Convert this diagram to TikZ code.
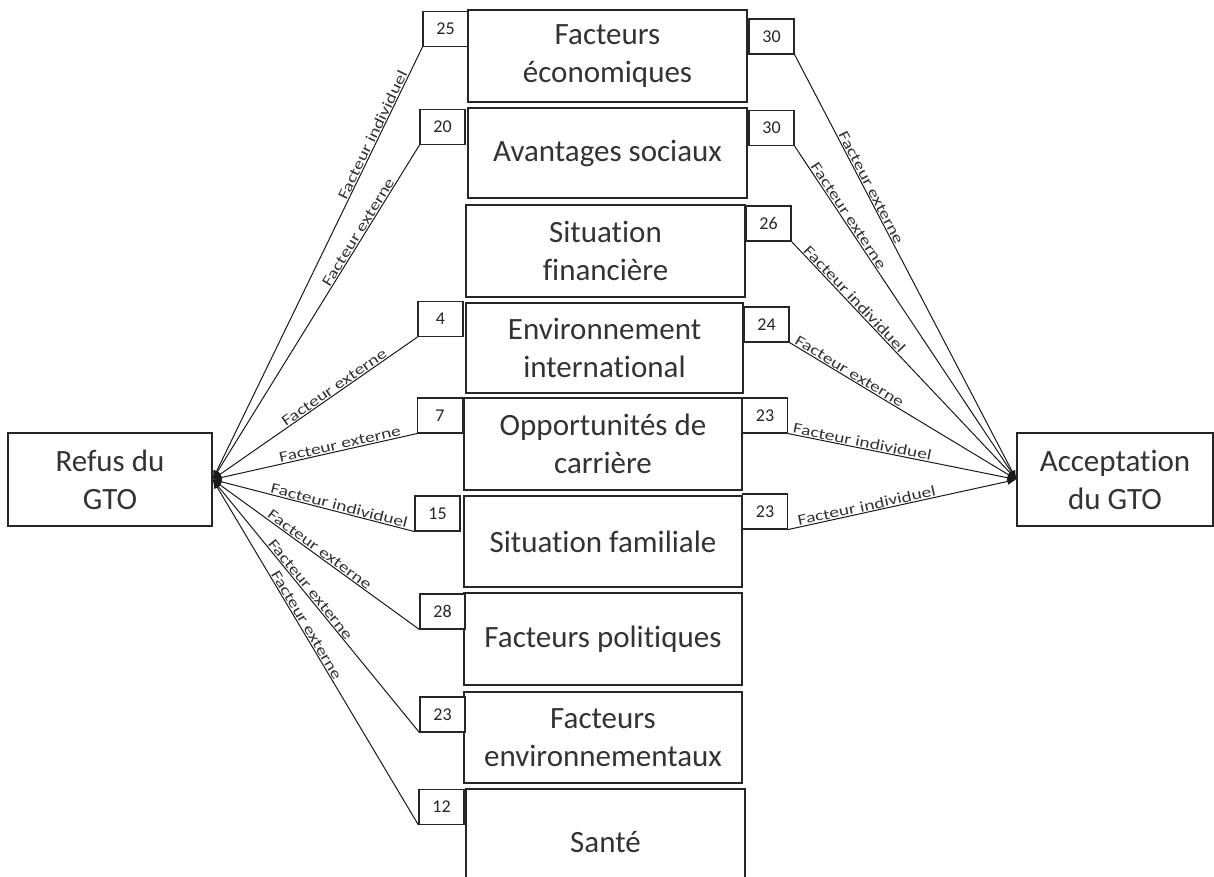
\documentclass[tikz,border=0pt]{standalone}
\usepackage{fontspec}
\setmainfont{Carlito}[Ligatures=NoCommon]
\newfontfamily\labfont[FakeStretch=1.3,Ligatures=NoCommon]{Carlito}
\usetikzlibrary{arrows.meta}

\begin{document}
\begin{tikzpicture}[x=1pt, y=-1pt, >={Latex[length=9pt,width=7pt]},
  box/.style={draw=black!85, line width=1.2pt, align=center, inner sep=0pt, text=black!80, font=\fontsize{31}{38}\selectfont},
  num/.style={draw=black!85, fill=white, line width=1.1pt, minimum width=45pt, minimum height=35pt, inner sep=0pt, text=black!85, font=\fontsize{18}{20}\selectfont},
  link/.style={->, line width=1pt, draw=black!90},
  lab/.style={above, sloped, inner sep=0.8pt, text=black!80, font=\labfont\fontsize{15}{18}\selectfont}]
\useasboundingbox (0,0) rectangle (1214,876);
% outer boxes
\node[box, minimum width=204pt, minimum height=93pt] (refus) at (110,479.5) {Refus du\\GTO};
\node[box, minimum width=196pt, minimum height=93pt] (accept) at (1115,479.5) {Acceptation\\du GTO};
% factor boxes
\node[box, minimum width=279pt, minimum height=92pt] (eco) at (607.5,56) {Facteurs\\économiques};
\node[box, minimum width=279pt, minimum height=90pt] (avant) at (607.5,153) {Avantages sociaux};
\node[box, minimum width=279pt, minimum height=92pt] (fin) at (605.5,251) {Situation\\financière};
\node[box, minimum width=277pt, minimum height=90pt] (inter) at (604.5,348) {Environnement\\international};
\node[box, minimum width=278pt, minimum height=92pt] (opp) at (603,444) {Opportunités de\\carrière};
\node[box, minimum width=278pt, minimum height=91pt] (fam) at (603,541.5) {Situation familiale};
\node[box, minimum width=278pt, minimum height=92pt] (pol) at (603,639) {Facteurs politiques};
\node[box, minimum width=278pt, minimum height=91pt] (envir) at (603,737.5) {Facteurs\\environnementaux};
\node[box, minimum width=279pt, minimum height=106pt] (sante) at (605.5,842) {Santé};
% numbers, left
\node[num] (l25) at (445.5,29) {25};
\node[num] (l20) at (442.5,127) {20};
\node[num] (l4) at (440.5,319) {4};
\node[num] (l7) at (440,415.5) {7};
\node[num] (l15) at (437.5,513.5) {15};
\node[num] (l28) at (442.5,611.5) {28};
\node[num] (l23) at (442.5,714.5) {23};
\node[num] (l12) at (441.5,807) {12};
% numbers, right
\node[num] (r30a) at (771.5,36.5) {30};
\node[num] (r30b) at (771.5,128) {30};
\node[num] (r26) at (768.5,223.5) {26};
\node[num] (r24) at (766.5,324.5) {24};
\node[num] (r23a) at (765,415.5) {23};
\node[num] (r23b) at (765,511.5) {23};
% links to refusal
\draw[link] (l25.south west) -- node[lab, pos=0.21] {Facteur individuel} (refus.east);
\draw[link] (l20.south west) -- node[lab, pos=0.27] {Facteur externe} (refus.east);
\draw[link] (l4.south west) -- node[lab, pos=0.39] {Facteur externe} (refus.east);
\draw[link] (l7.south west) -- node[lab, pos=0.37] {Facteur externe} (refus.east);
\draw[link] (l15.south west) -- node[lab, pos=0.38] {Facteur individuel} (refus.east);
\draw[link] (l28.south west) -- node[lab, pos=0.50] {Facteur externe} (refus.east);
\draw[link] (l23.south west) -- node[lab, pos=0.55] {Facteur externe} (refus.east);
\draw[link] (l12.south west) -- node[lab, pos=0.57] {Facteur externe} (refus.east);
% links to acceptance
\draw[link] (r30a.south east) -- node[lab, pos=0.32] {Facteur externe} (accept.west);
\draw[link] (r30b.south east) -- node[lab, pos=0.22] {Facteur externe} (accept.west);
\draw[link] (r26.south east) -- node[lab, pos=0.26] {Facteur individuel} (accept.west);
\draw[link] (r24.south east) -- node[lab, pos=0.25] {Facteur externe} (accept.west);
\draw[link] (r23a.south east) -- node[lab, pos=0.32] {Facteur individuel} (accept.west);
\draw[link] (r23b.south east) -- node[lab, pos=0.35] {Facteur individuel} (accept.west);
\end{tikzpicture}
\end{document}
